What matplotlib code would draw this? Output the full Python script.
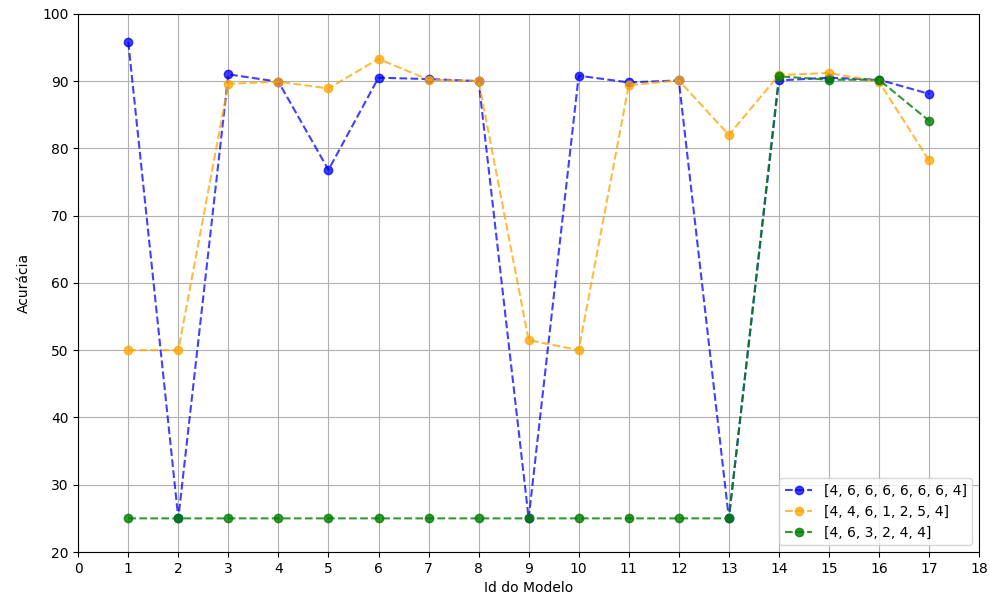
import matplotlib
matplotlib.use('Agg')
import matplotlib.pyplot as plt

model_ids = list(range(1, 18))

acc_blue = [95.8, 25.0, 91.0, 89.9, 76.8, 90.5, 90.3, 90.0, 25.0,
            90.8, 89.8, 90.1, 25.0, 90.1, 90.5, 90.2, 88.1]
acc_orange = [50.0, 50.0, 89.6, 89.9, 88.9, 93.3, 90.2, 90.0, 51.5,
              50.0, 89.4, 90.1, 82.0, 90.9, 91.2, 89.9, 78.2]
acc_green = [25.0] * 13 + [90.7, 90.2, 90.2, 84.1]

labels = ['[4, 6, 6, 6, 6, 6, 6, 4]', '[4, 4, 6, 1, 2, 5, 4]', '[4, 6, 3, 2, 4, 4]']

fig = plt.figure(figsize=(9.9, 6), dpi=100)
ax = fig.add_axes([0.079, 0.08, 0.910, 0.897])

ax.plot(model_ids, acc_blue, 'o--', color='blue', alpha=0.75, label=labels[0])
ax.plot(model_ids, acc_orange, 'o--', color='orange', alpha=0.75, label=labels[1])
ax.plot(model_ids, acc_green, 'o--', color='green', alpha=0.8, label=labels[2])

ax.set_xlim(0, 18)
ax.set_ylim(20, 100)
ax.set_xticks(range(0, 19))
ax.set_xlabel('Id do Modelo')
ax.set_ylabel('Acurácia', labelpad=8)
ax.grid(True)
ax.legend(loc='lower right')

fig.savefig('out.png')
